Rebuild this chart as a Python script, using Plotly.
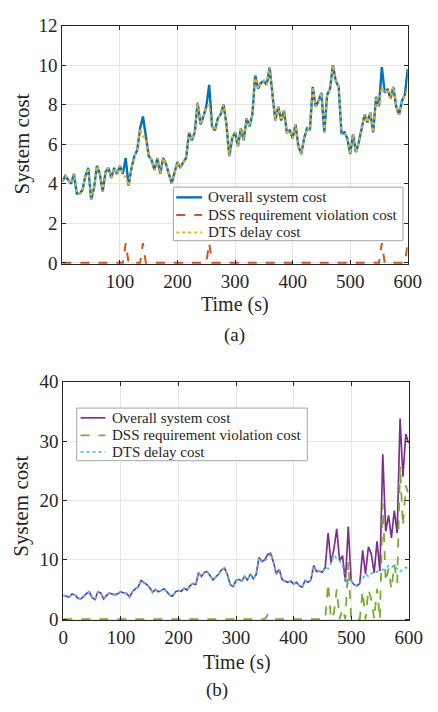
import plotly.graph_objects as go

# sample times (s)
time_s = list(range(0, 601, 5))

# ---------- (a) ----------
a_dts_delay = [
    4.1, 4.4, 4.2, 4.0, 4.5, 3.5, 3.5, 3.7, 4.4, 4.8,
    3.2, 3.8, 4.9, 4.5, 3.6, 4.6, 4.8, 4.3, 4.8, 4.5,
    4.9, 4.5, 4.3, 3.9, 4.8, 5.4, 5.7, 6.8, 6.4, 6.3,
    5.4, 5.2, 4.7, 5.3, 4.5, 5.3, 5.0, 4.5, 4.0, 4.6,
    5.1, 4.8, 5.1, 5.3, 6.6, 6.2, 6.6, 8.1, 7.0, 7.4,
    7.9, 8.0, 6.9, 6.7, 7.3, 7.5, 8.0, 7.0, 5.4, 6.3,
    6.6, 5.9, 6.8, 6.2, 7.3, 6.9, 7.5, 9.5, 8.8, 9.1,
    9.2, 9.0, 9.9, 8.5, 7.2, 7.9, 7.2, 7.7, 6.6, 6.7,
    6.3, 7.0, 5.9, 5.5, 6.3, 6.8, 6.7, 8.9, 7.9, 8.2,
    8.6, 6.6, 8.5, 8.8, 10.0, 9.2, 8.9, 6.5, 6.6, 6.3,
    5.5, 6.5, 5.6, 6.1, 6.9, 7.5, 7.1, 7.6, 6.6, 8.4,
    7.9, 8.9, 8.6, 8.8, 8.3, 8.9, 7.9, 7.5, 8.2, 8.5,
    8.8,
]
a_dss_violation = [0.0] * len(time_s)
for _t, _v in [(110, 1.0), (140, 1.0), (255, 1.0), (555, 1.0), (600, 1.0)]:
    a_dss_violation[time_s.index(_t)] = _v
a_overall = [d + v for d, v in zip(a_dts_delay, a_dss_violation)]

# ---------- (b) ----------
b_dts_delay = [
    4.0, 3.8, 3.7, 4.2, 4.1, 3.5, 3.4, 3.8, 4.3, 4.6,
    3.6, 3.3, 4.6, 4.4, 3.4, 4.0, 4.4, 4.2, 4.1, 4.3,
    4.6, 4.4, 4.3, 3.7, 4.6, 5.1, 5.4, 6.5, 6.2, 5.8,
    5.3, 4.5, 5.0, 4.6, 4.8, 5.1, 4.6, 4.0, 3.9, 4.6,
    4.8, 4.7, 5.2, 4.9, 5.6, 6.0, 5.8, 7.8, 7.2, 7.9,
    8.0, 7.4, 6.6, 7.1, 7.6, 8.3, 8.6, 7.5, 5.8, 5.5,
    6.5, 6.7, 6.4, 7.2, 6.6, 7.6, 6.8, 7.5, 10.4, 9.7,
    10.0, 10.2, 11.1, 9.6, 7.6, 8.4, 6.7, 6.4, 6.2, 6.4,
    5.9, 6.2, 5.6, 5.4, 6.5, 6.2, 6.6, 9.0, 8.0, 8.1,
    7.9, 8.7, 8.5, 9.5, 10.8, 10.2, 9.8, 9.0, 6.3, 6.0,
    6.5, 5.8, 5.6, 6.0, 6.9, 7.6, 7.2, 7.7, 7.8, 8.0,
    8.1, 8.3, 8.5, 9.0, 8.7, 9.1, 8.4, 8.0, 8.3, 8.7,
    8.6,
]
b_dss_violation = [0.0] * len(time_s)
for _t, _v in [(355, 0.7), (460, 6.0), (470, 1.0), (475, 5.0), (485, 1.7),
               (495, 9.6), (520, 4.7), (530, 5.0), (535, 3.3), (545, 5.1),
               (555, 19.5), (560, 6.3), (565, 8.5), (570, 5.0), (575, 9.2),
               (580, 6.1), (585, 25.8), (590, 15.7), (595, 22.5), (600, 21.0)]:
    b_dss_violation[time_s.index(_t)] = _v
b_overall = [d + v for d, v in zip(b_dts_delay, b_dss_violation)]

legend_names = ["Overall system cost", "DSS requirement violation cost", "DTS delay cost"]

FONT = "Liberation Serif, Times New Roman, serif"
W, H = 438, 712

a_styles = [dict(color="#0072BD", width=2.4),
            dict(color="#D95319", width=2, dash="dash"),
            dict(color="#EDB120", width=2, dash="dot")]
b_styles = [dict(color="#7E2F8E", width=1.7),
            dict(color="#77AC30", width=1.8, dash="dash"),
            dict(color="#4DBEEE", width=1.8, dash="dot")]

fig = go.Figure()
for name, ys, st in zip(legend_names, [a_overall, a_dss_violation, a_dts_delay], a_styles):
    fig.add_trace(go.Scatter(x=time_s, y=ys, mode="lines", name=name, line=st,
                             xaxis="x", yaxis="y", showlegend=False))
for name, ys, st in zip(legend_names, [b_overall, b_dss_violation, b_dts_delay], b_styles):
    fig.add_trace(go.Scatter(x=time_s, y=ys, mode="lines", name=name, line=st,
                             xaxis="x2", yaxis="y2", showlegend=False))

def px_x(p):
    return p / W

def px_y(p):
    return (H - p) / H

axis_common = dict(
    showline=True, linecolor="#262626", linewidth=1, mirror="ticks",
    ticks="inside", ticklen=4, tickcolor="#262626",
    showgrid=True, gridcolor="#e6e6e6", gridwidth=1, zeroline=False,
    tickfont=dict(family=FONT, size=19, color="#262626"),
)

fig.update_layout(
    width=W, height=H,
    margin=dict(l=0, r=0, t=0, b=0),
    paper_bgcolor="white", plot_bgcolor="white",
    font=dict(family=FONT, color="#262626"),
    xaxis=dict(domain=[px_x(60), px_x(421)], range=[0, 600],
               tickvals=[100, 200, 300, 400, 500, 600], anchor="y", **axis_common),
    yaxis=dict(domain=[px_y(261), px_y(16)], range=[-0.06, 12],
               tickvals=[0, 2, 4, 6, 8, 10, 12], anchor="x", **axis_common),
    xaxis2=dict(domain=[px_x(61), px_x(422)], range=[0, 600],
                tickvals=[0, 100, 200, 300, 400, 500, 600], anchor="y2", **axis_common),
    yaxis2=dict(domain=[px_y(627), px_y(382)], range=[-0.2, 40],
                tickvals=[0, 10, 20, 30, 40], anchor="x2", **axis_common),
    showlegend=False,
)

# hand-drawn legends (box, sample lines, labels)
def add_legend(box, sample_x, rows_y, text_x, styles):
    x0, x1, y0, y1 = box
    fig.add_shape(type="rect", xref="paper", yref="paper",
                  x0=px_x(x0), x1=px_x(x1), y0=px_y(y1), y1=px_y(y0),
                  line=dict(color="#a6a6a6", width=1), fillcolor="white", layer="above")
    for name, ry, st in zip(legend_names, rows_y, styles):
        fig.add_shape(type="line", xref="paper", yref="paper",
                      x0=px_x(sample_x[0]), x1=px_x(sample_x[1]), y0=px_y(ry), y1=px_y(ry),
                      line=dict(color=st["color"], width=st["width"], dash=st.get("dash", "solid")),
                      layer="above")
        fig.add_annotation(xref="paper", yref="paper", showarrow=False, text=name,
                           x=px_x(text_x), y=px_y(ry), xanchor="left", yanchor="middle",
                           font=dict(family=FONT, size=15, color="#262626"))

add_legend((176, 416, 182, 237), (179, 206), (192.5, 210.5, 228.5), 210, a_styles)
add_legend((75, 316, 409, 463), (79, 105), (419, 437, 454), 110, b_styles)

ann = [
    ("Time (s)", px_x(240), px_y(303), 20, 0),
    ("(a)", px_x(240), px_y(334), 19, 0),
    ("System cost", px_x(18), px_y(138), 21, -90),
    ("Time (s)", px_x(243), px_y(670), 20, 0),
    ("(b)", px_x(222), px_y(699), 19, 0),
    ("System cost", px_x(17), px_y(510), 21, -90),
]
for text, ax, ay, size, angle in ann:
    fig.add_annotation(xref="paper", yref="paper", showarrow=False,
                       xanchor="center", yanchor="middle", text=text,
                       x=ax, y=ay, textangle=angle,
                       font=dict(family=FONT, color="#262626", size=size))

fig.write_html("out.html")
